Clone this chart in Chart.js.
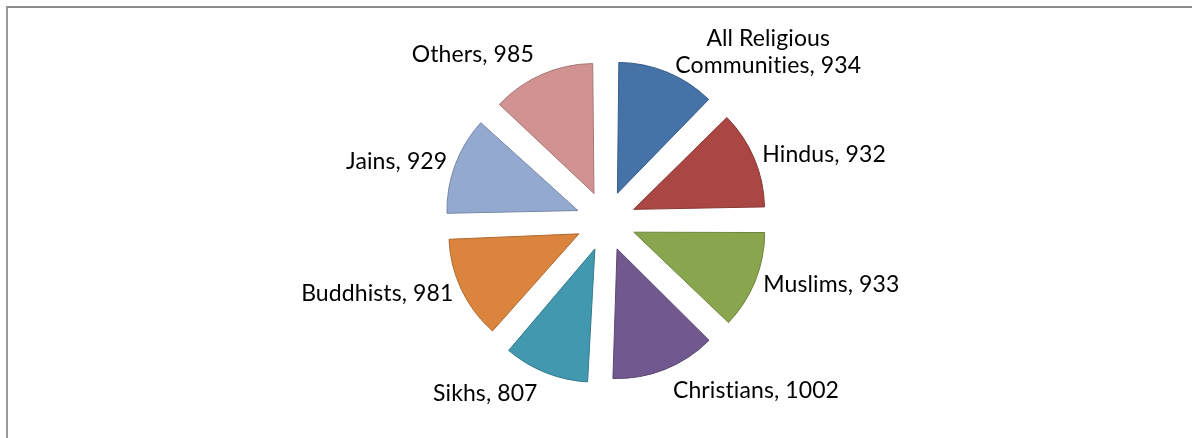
<!DOCTYPE html>
<html>
<head>
<meta charset="utf-8">
<script src="https://cdn.jsdelivr.net/npm/chart.js@4.4.1/dist/chart.umd.min.js"></script>
<style>
    html, body { margin: 0; padding: 0; background: #fff; overflow: hidden; }
    #frame {
        position: absolute; left: 6px; top: 6px; width: 1200px; height: 440px;
        border-left: 2px solid #9a9a9a; border-top: 2px solid #8c8c8c;
    }
    #wrap { position: absolute; left: 0; top: 0; width: 1192px; height: 438px; }
</style>
</head>
<body>
<div id="frame"></div>
<div id="wrap"><canvas id="sexRatioChart"></canvas></div>
<script>
// Data
const communities = ['All Religious Communities', 'Hindus', 'Muslims', 'Christians', 'Sikhs', 'Buddhists', 'Jains', 'Others'];
const sexRatio = [934, 932, 933, 1002, 807, 981, 929, 985];

// Slice colours (Excel classic palette)
const sliceColors = ['#4572A7', '#AA4643', '#89A54E', '#71588F', '#4198AF', '#DB843D', '#93A9CF', '#D19392'];

function darken(hex, f) {
    const n = parseInt(hex.slice(1), 16);
    const r = Math.round(((n >> 16) & 255) * f);
    const g = Math.round(((n >> 8) & 255) * f);
    const b = Math.round((n & 255) * f);
    return `rgb(${r}, ${g}, ${b})`;
}

function wrapText(ctx, text, maxWidth) {
    const words = text.split(' ');
    const lines = [];
    let line = '';
    words.forEach(word => {
        const test = line ? line + ' ' + word : word;
        if (line && ctx.measureText(test).width > maxWidth) {
            lines.push(line);
            line = word;
        } else {
            line = test;
        }
    });
    if (line) lines.push(line);
    return lines;
}

// Labels placed just outside each exploded slice
const sliceLabels = {
    id: 'sliceLabels',
    afterDatasetsDraw(chart) {
        const ctx = chart.ctx;
        const meta = chart.getDatasetMeta(0);
        ctx.save();
        ctx.font = '23px Lato, "Open Sans", sans-serif';
        ctx.letterSpacing = '0.1px'; // avoids the "ti" ligature
        ctx.fillStyle = '#000';
        ctx.textAlign = 'center';
        ctx.textBaseline = 'middle';
        meta.data.forEach((arc, i) => {
            const p = arc.getProps(['x', 'y', 'startAngle', 'endAngle', 'outerRadius', 'circumference'], true);
            const mid = (p.startAngle + p.endAngle) / 2;
            const explode = (arc.options.offset || 0) / 4;
            const r = p.outerRadius + explode * (1 - Math.sin(Math.min(Math.PI, p.circumference))) + explode;
            const ux = Math.cos(mid), uy = Math.sin(mid);
            const px = p.x + ux * r, py = p.y + uy * r;
            const lines = wrapText(ctx, communities[i] + ', ' + sexRatio[i], 200);
            const w = Math.max(...lines.map(l => ctx.measureText(l).width));
            const lh = 27;
            let cx = px;
            if (ux > 0.2) cx = px + 8 + w / 2;
            else if (ux < -0.2) cx = px - 8 - w / 2;
            const cy = py + uy * Math.abs(uy) * 24;
            lines.forEach((l, k) => ctx.fillText(l, cx, cy + (k - (lines.length - 1) / 2) * lh));
        });
        ctx.restore();
    }
};

new Chart(document.getElementById('sexRatioChart'), {
    type: 'pie',
    data: {
        labels: communities,
        datasets: [{
            data: sexRatio,
            backgroundColor: sliceColors,
            borderColor: sliceColors.map(c => darken(c, 0.8)),
            borderWidth: 1,
            offset: 120,
            hoverOffset: 0
        }]
    },
    options: {
        responsive: true,
        maintainAspectRatio: false,
        animation: false,
        events: [],
        radius: 122,
        layout: { padding: { left: 20, top: 4, right: 0, bottom: 0 } },
        plugins: {
            legend: { display: false },
            tooltip: { enabled: false }
        }
    },
    plugins: [sliceLabels]
});
</script>
</body>
</html>
